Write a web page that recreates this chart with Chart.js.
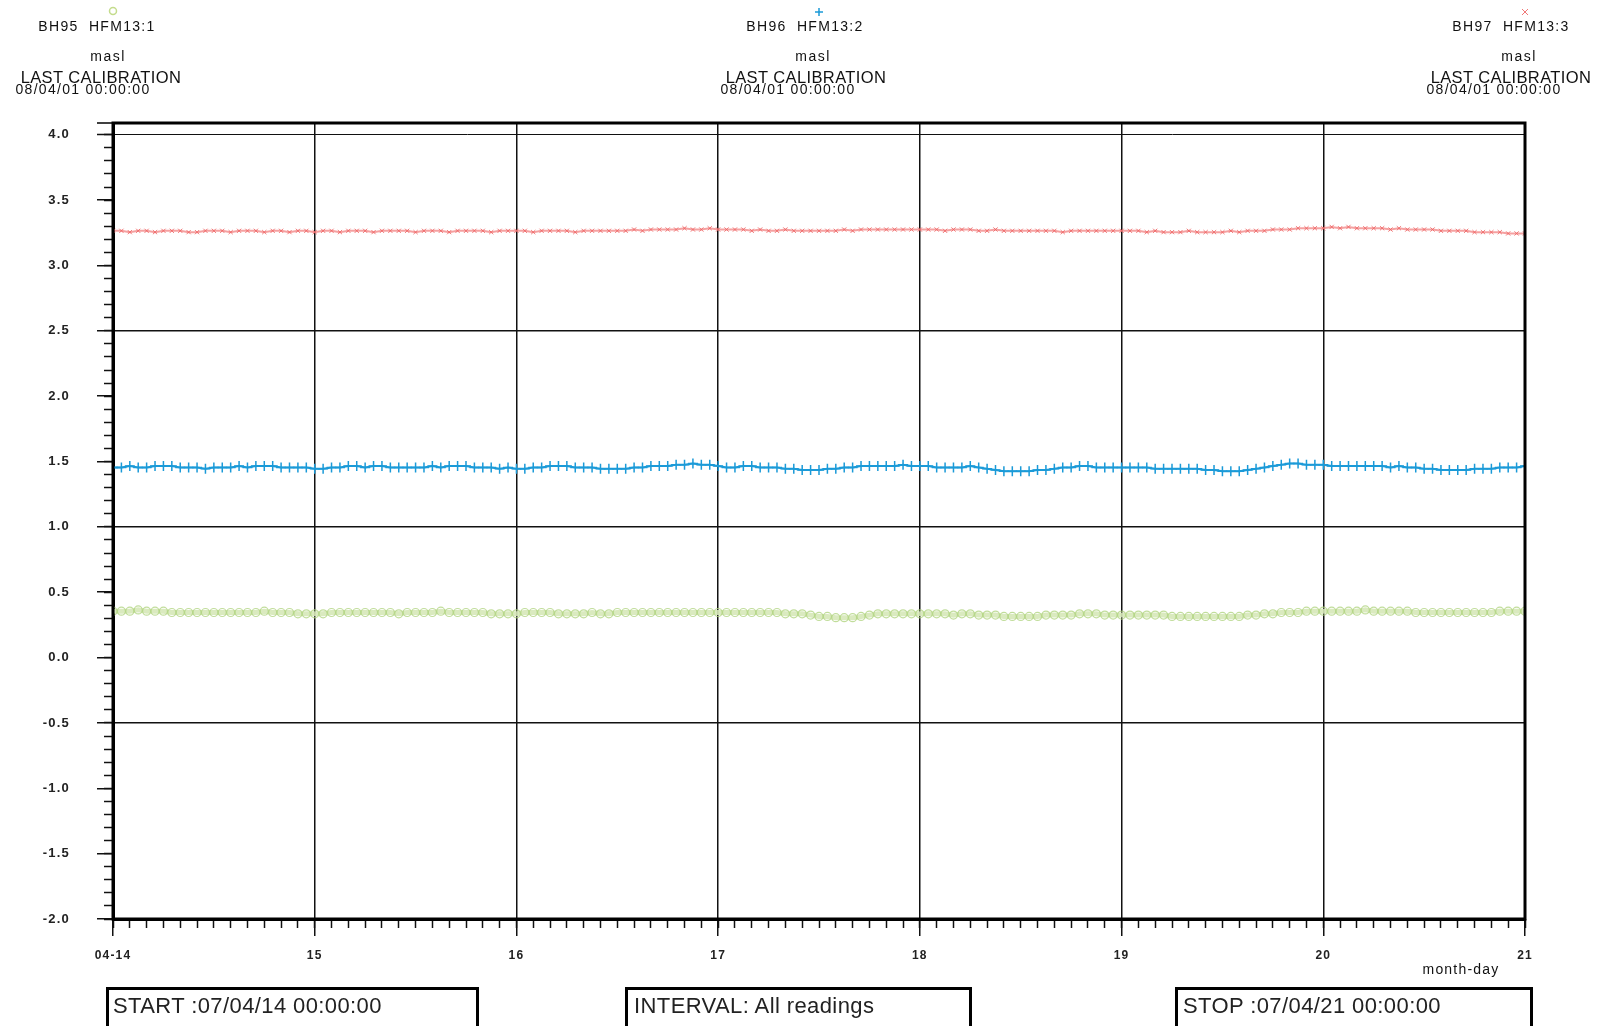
<!DOCTYPE html>
<html lang="en">
<head>
  <meta charset="UTF-8" />
  <title>HFM13 - masl</title>
  <script src="https://cdn.jsdelivr.net/npm/chart.js"></script>
  <style>
    body { margin: 0; background: #fff; overflow: hidden; }
    #wrap { position: relative; width: 1598px; height: 1026px; overflow: hidden;
            font-family: "Liberation Sans", Arial, sans-serif; color: #111; }
    #chart { position: absolute; left: 0; top: 0; }
    .t { position: absolute; white-space: pre; transform: translate(-50%, -50%); line-height: 1; }
    .head { font-size: 14px; letter-spacing: 1.3px; }
    .unit { font-size: 14px; letter-spacing: 1.5px; }
    .cal { font-size: 16.5px; letter-spacing: 0.4px; }
    .date { font-size: 14px; letter-spacing: 1.3px; }
    .box { position: absolute; top: 987px; height: 60px; box-sizing: border-box;
           border: 3px solid #000; font-size: 22px; letter-spacing: 0.4px;
           line-height: 28px; padding-top: 2px; white-space: pre; color: #222; }
  </style>
</head>
<body>
<div id="wrap">
  <canvas id="chart" width="1598" height="1026"></canvas>

  <!-- legend blocks -->
  <div class="t head" style="left:97px;top:26px">BH95  HFM13:1</div>
  <div class="t unit" style="left:108px;top:56px">masl</div>
  <div class="t cal"  style="left:101px;top:77px">LAST CALIBRATION</div>
  <div class="t date" style="left:83px;top:89px">08/04/01 00:00:00</div>

  <div class="t head" style="left:805px;top:26px">BH96  HFM13:2</div>
  <div class="t unit" style="left:813px;top:56px">masl</div>
  <div class="t cal"  style="left:806px;top:77px">LAST CALIBRATION</div>
  <div class="t date" style="left:788px;top:89px">08/04/01 00:00:00</div>

  <div class="t head" style="left:1511px;top:26px">BH97  HFM13:3</div>
  <div class="t unit" style="left:1519px;top:56px">masl</div>
  <div class="t cal"  style="left:1511px;top:77px">LAST CALIBRATION</div>
  <div class="t date" style="left:1494px;top:89px">08/04/01 00:00:00</div>

  <div class="t" style="left:1461px;top:969px;font-size:14px;letter-spacing:1.2px">month-day</div>

  <!-- bottom info boxes -->
  <div class="box" style="left:106px;width:373px;padding-left:4px">START :07/04/14 00:00:00</div>
  <div class="box" style="left:625px;width:347px;padding-left:6px">INTERVAL: All readings</div>
  <div class="box" style="left:1175px;width:358px;padding-left:5px">STOP :07/04/21 00:00:00</div>
</div>

<script>
  // hourly readings, 07/04/14 00:00 -> 07/04/21 00:00 (169 per series)
  const bh95 = [
    0.355, 0.355, 0.355, 0.365, 0.355, 0.355, 0.355, 0.345, 0.345, 0.345, 0.345, 0.345,
    0.345, 0.345, 0.345, 0.345, 0.345, 0.345, 0.355, 0.345, 0.345, 0.345, 0.335, 0.335,
    0.335, 0.335, 0.345, 0.345, 0.345, 0.345, 0.345, 0.345, 0.345, 0.345, 0.335, 0.345,
    0.345, 0.345, 0.345, 0.355, 0.345, 0.345, 0.345, 0.345, 0.345, 0.335, 0.335, 0.335,
    0.335, 0.345, 0.345, 0.345, 0.345, 0.335, 0.335, 0.335, 0.335, 0.345, 0.335, 0.335,
    0.345, 0.345, 0.345, 0.345, 0.345, 0.345, 0.345, 0.345, 0.345, 0.345, 0.345, 0.345,
    0.345, 0.345, 0.345, 0.345, 0.345, 0.345, 0.345, 0.345, 0.335, 0.335, 0.335, 0.325,
    0.315, 0.315, 0.305, 0.305, 0.305, 0.315, 0.325, 0.335, 0.335, 0.335, 0.335, 0.335,
    0.335, 0.335, 0.335, 0.335, 0.325, 0.335, 0.335, 0.325, 0.325, 0.325, 0.315, 0.315,
    0.315, 0.315, 0.315, 0.325, 0.325, 0.325, 0.325, 0.335, 0.335, 0.335, 0.325, 0.325,
    0.325, 0.325, 0.325, 0.325, 0.325, 0.325, 0.315, 0.315, 0.315, 0.315, 0.315, 0.315,
    0.315, 0.315, 0.315, 0.325, 0.325, 0.335, 0.335, 0.345, 0.345, 0.345, 0.355, 0.355,
    0.355, 0.355, 0.355, 0.355, 0.355, 0.365, 0.355, 0.355, 0.355, 0.355, 0.355, 0.345,
    0.345, 0.345, 0.345, 0.345, 0.345, 0.345, 0.345, 0.345, 0.345, 0.355, 0.355, 0.355,
    0.355
  ];
  const bh96 = [
    1.455, 1.455, 1.465, 1.455, 1.455, 1.465, 1.465, 1.465, 1.455, 1.455, 1.455, 1.445,
    1.455, 1.455, 1.455, 1.465, 1.455, 1.465, 1.465, 1.465, 1.455, 1.455, 1.455, 1.455,
    1.445, 1.445, 1.455, 1.455, 1.465, 1.465, 1.455, 1.465, 1.465, 1.455, 1.455, 1.455,
    1.455, 1.455, 1.465, 1.455, 1.465, 1.465, 1.465, 1.455, 1.455, 1.455, 1.445, 1.455,
    1.445, 1.445, 1.455, 1.455, 1.465, 1.465, 1.465, 1.455, 1.455, 1.455, 1.445, 1.445,
    1.445, 1.445, 1.455, 1.455, 1.465, 1.465, 1.465, 1.475, 1.475, 1.485, 1.475, 1.475,
    1.465, 1.455, 1.455, 1.465, 1.465, 1.455, 1.455, 1.455, 1.445, 1.445, 1.435, 1.435,
    1.435, 1.445, 1.445, 1.455, 1.455, 1.465, 1.465, 1.465, 1.465, 1.465, 1.475, 1.465,
    1.465, 1.465, 1.455, 1.455, 1.455, 1.455, 1.465, 1.455, 1.445, 1.435, 1.425, 1.425,
    1.425, 1.425, 1.435, 1.435, 1.445, 1.455, 1.455, 1.465, 1.465, 1.455, 1.455, 1.455,
    1.455, 1.455, 1.455, 1.455, 1.445, 1.445, 1.445, 1.445, 1.445, 1.445, 1.435, 1.435,
    1.425, 1.425, 1.425, 1.435, 1.445, 1.455, 1.465, 1.475, 1.485, 1.485, 1.475, 1.475,
    1.475, 1.465, 1.465, 1.465, 1.465, 1.465, 1.465, 1.465, 1.455, 1.465, 1.455, 1.455,
    1.445, 1.445, 1.435, 1.435, 1.435, 1.435, 1.445, 1.445, 1.445, 1.455, 1.455, 1.455,
    1.465
  ];
  const bh97 = [
    3.265, 3.265, 3.255, 3.265, 3.265, 3.255, 3.265, 3.265, 3.265, 3.255, 3.255, 3.265,
    3.265, 3.265, 3.255, 3.265, 3.265, 3.265, 3.255, 3.265, 3.265, 3.255, 3.265, 3.265,
    3.255, 3.265, 3.265, 3.255, 3.265, 3.265, 3.265, 3.255, 3.265, 3.265, 3.265, 3.265,
    3.255, 3.265, 3.265, 3.265, 3.255, 3.265, 3.265, 3.265, 3.265, 3.255, 3.265, 3.265,
    3.265, 3.265, 3.255, 3.265, 3.265, 3.265, 3.265, 3.255, 3.265, 3.265, 3.265, 3.265,
    3.265, 3.265, 3.275, 3.265, 3.275, 3.275, 3.275, 3.275, 3.285, 3.275, 3.275, 3.285,
    3.275, 3.275, 3.275, 3.275, 3.265, 3.275, 3.265, 3.265, 3.275, 3.265, 3.265, 3.265,
    3.265, 3.265, 3.265, 3.275, 3.265, 3.275, 3.275, 3.275, 3.275, 3.275, 3.275, 3.275,
    3.275, 3.275, 3.275, 3.265, 3.275, 3.275, 3.275, 3.265, 3.265, 3.275, 3.265, 3.265,
    3.265, 3.265, 3.265, 3.265, 3.265, 3.255, 3.265, 3.265, 3.265, 3.265, 3.265, 3.265,
    3.265, 3.265, 3.265, 3.255, 3.265, 3.255, 3.255, 3.255, 3.265, 3.255, 3.255, 3.255,
    3.255, 3.265, 3.255, 3.265, 3.265, 3.265, 3.275, 3.275, 3.275, 3.285, 3.285, 3.285,
    3.285, 3.295, 3.285, 3.295, 3.285, 3.285, 3.285, 3.285, 3.275, 3.285, 3.275, 3.275,
    3.275, 3.275, 3.265, 3.265, 3.265, 3.265, 3.255, 3.255, 3.255, 3.255, 3.245, 3.245,
    3.245
  ];

  const xTickLabels = ["04-14", "15", "16", "17", "18", "19", "20", "21"];
  const yTickLabels = ["-2.0", "-1.5", "-1.0", "-0.5", "0.0", "0.5", "1.0",
                       "1.5", "2.0", "2.5", "3.0", "3.5", "4.0"];
  const yGridValues = [4.0, 2.5, 1.0, -0.5];

  const toPoints = arr => arr.map((v, i) => ({ x: i, y: v }));
  const tickFont = { family: "Liberation Sans", size: 13, weight: "bold" };

  // frame, top tick and the legend symbols
  const framePlugin = {
    id: "frame",
    beforeDraw(chart) {
      chart.ctx.letterSpacing = "1.2px";
    },
    afterDatasetsDraw(chart) {
      const { ctx, chartArea: a } = chart;
      ctx.save();
      ctx.strokeStyle = "#000";
      ctx.lineWidth = 3;
      ctx.strokeRect(a.left, a.top, a.right - a.left, a.bottom - a.top);
      ctx.lineWidth = 1.5;
      ctx.beginPath();
      ctx.moveTo(a.left - 16, a.top);
      ctx.lineTo(a.left, a.top);
      ctx.stroke();
      ctx.restore();
    },
    afterDraw(chart) {
      const { ctx, chartArea: a } = chart;
      const mid = (a.left + a.right) / 2;
      ctx.save();
      ctx.lineWidth = 1.5;
      ctx.strokeStyle = "#c4dc8c";
      ctx.beginPath();
      ctx.arc(a.left, 11, 3.5, 0, Math.PI * 2);
      ctx.stroke();
      ctx.strokeStyle = "#1b9ad8";
      ctx.beginPath();
      ctx.moveTo(mid - 4, 12); ctx.lineTo(mid + 4, 12);
      ctx.moveTo(mid, 8); ctx.lineTo(mid, 16);
      ctx.stroke();
      ctx.strokeStyle = "#f07878";
      ctx.lineWidth = 1;
      ctx.beginPath();
      ctx.moveTo(a.right - 3, 9); ctx.lineTo(a.right + 3, 15);
      ctx.moveTo(a.right + 3, 9); ctx.lineTo(a.right - 3, 15);
      ctx.stroke();
      ctx.restore();
    }
  };

  new Chart(document.getElementById("chart"), {
    type: "line",
    data: {
      datasets: [
        {
          label: "BH95 HFM13:1",
          data: toPoints(bh95),
          borderColor: "rgba(214, 232, 184, 0.9)",
          backgroundColor: "rgba(0,0,0,0)",
          borderWidth: 5,
          pointStyle: "circle",
          pointRadius: 4,
          pointBorderColor: "rgba(178, 212, 130, 0.8)",
          pointBorderWidth: 1.2
        },
        {
          label: "BH96 HFM13:2",
          data: toPoints(bh96),
          borderColor: "#1b9ad8",
          backgroundColor: "rgba(0,0,0,0)",
          borderWidth: 2,
          pointStyle: "cross",
          pointRadius: 5,
          pointBorderWidth: 1.5
        },
        {
          label: "BH97 HFM13:3",
          data: toPoints(bh97),
          borderColor: "rgba(242, 130, 130, 0.75)",
          backgroundColor: "rgba(0,0,0,0)",
          borderWidth: 2,
          pointStyle: "crossRot",
          pointRadius: 3,
          pointBorderColor: "rgba(238, 100, 100, 0.85)",
          pointBorderWidth: 1
        }
      ]
    },
    options: {
      responsive: false,
      animation: false,
      events: [],
      layout: { padding: { left: 0, top: 123, right: 73, bottom: 0 } },
      plugins: { legend: { display: false }, tooltip: { enabled: false } },
      scales: {
        x: {
          type: "linear", position: "bottom", min: 0, max: 168, weight: 1,
          afterFit: s => { s.height = 107; },
          ticks: {
            stepSize: 24, autoSkip: false, maxRotation: 0, padding: 12,
            font: { family: "Liberation Sans", size: 12, weight: "bold" }, color: "#222",
            callback: v => xTickLabels[Math.round(v / 24)]
          },
          grid: { color: "#111", lineWidth: 1.5, tickLength: 17, tickColor: "#111", tickWidth: 1.5 },
          border: { color: "#000", width: 3 }
        },
        xMinor: {
          type: "linear", position: "bottom", min: 0, max: 168, weight: 0,
          afterFit: s => { s.height = 0; },
          ticks: { stepSize: 2, display: false },
          grid: { drawOnChartArea: false, tickLength: 9, tickColor: "#111", tickWidth: 1.5 },
          border: { display: false }
        },
        y: {
          type: "linear", position: "left", min: -2, max: 4.09, weight: 1,
          afterFit: s => { s.width = 113; },
          ticks: {
            stepSize: 0.5, includeBounds: false, autoSkip: false, padding: 27,
            font: tickFont, color: "#222",
            callback: v => yTickLabels[Math.round((v + 2) / 0.5)]
          },
          grid: {
            color: c => yGridValues.some(g => Math.abs(g - c.tick.value) < 1e-6) ? "#111" : "rgba(0,0,0,0)",
            lineWidth: c => Math.abs(c.tick.value - 4) < 1e-6 ? 1 : 1.5,
            tickLength: 16, tickColor: "#111", tickWidth: 1.5
          },
          border: { color: "#000", width: 3 }
        },
        yMinor: {
          type: "linear", position: "left", min: -20, max: 40.9, weight: 0,
          afterFit: s => { s.width = 0; },
          ticks: { stepSize: 1, includeBounds: false, display: false },
          grid: { drawOnChartArea: false, tickLength: 9, tickColor: "#111", tickWidth: 1.5 },
          border: { display: false }
        }
      }
    },
    plugins: [framePlugin]
  });
</script>
</body>
</html>
